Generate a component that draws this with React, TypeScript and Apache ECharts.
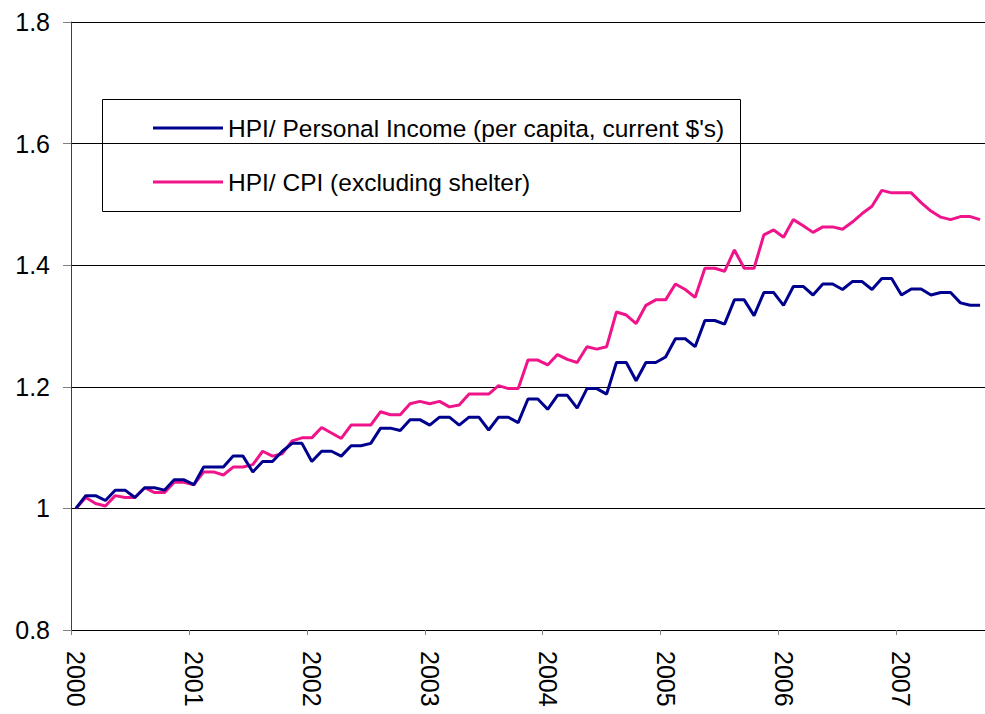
import React, { useEffect, useRef } from "react";
import * as echarts from "echarts";

const years = ["2000", "2001", "2002", "2003", "2004", "2005", "2006", "2007"];
const monthsShown = 93; // Jan 2000 .. Sep 2007

const seriesNames = [
  "HPI/ Personal Income (per capita, current $'s)",
  "HPI/ CPI (excluding shelter)",
];

const hpiIncome = [
  1.000, 1.021, 1.021, 1.013, 1.030, 1.030, 1.018, 1.034, 1.034, 1.030, 1.047, 1.047,
  1.039, 1.068, 1.068, 1.068, 1.086, 1.086, 1.060, 1.077, 1.077, 1.094, 1.107, 1.107,
  1.077, 1.094, 1.094, 1.086, 1.103, 1.103, 1.107, 1.132, 1.132, 1.128, 1.146, 1.146,
  1.137, 1.150, 1.150, 1.137, 1.150, 1.150, 1.129, 1.150, 1.150, 1.141, 1.180, 1.180,
  1.163, 1.186, 1.186, 1.165, 1.197, 1.197, 1.188, 1.240, 1.240, 1.210, 1.240, 1.240,
  1.249, 1.279, 1.279, 1.266, 1.309, 1.309, 1.303, 1.343, 1.343, 1.317, 1.355, 1.355,
  1.334, 1.365, 1.365, 1.351, 1.369, 1.369, 1.360, 1.373, 1.373, 1.360, 1.378, 1.378,
  1.351, 1.361, 1.361, 1.351, 1.355, 1.355, 1.338, 1.334, 1.334,
];

const hpiCpi = [
  1.000, 1.018, 1.008, 1.004, 1.021, 1.018, 1.018, 1.034, 1.026, 1.026, 1.043, 1.043,
  1.039, 1.060, 1.060, 1.055, 1.068, 1.068, 1.072, 1.094, 1.086, 1.090, 1.111, 1.116,
  1.116, 1.133, 1.124, 1.115, 1.137, 1.137, 1.137, 1.159, 1.154, 1.154, 1.172, 1.176,
  1.172, 1.176, 1.167, 1.170, 1.188, 1.188, 1.188, 1.202, 1.197, 1.197, 1.244, 1.244,
  1.236, 1.253, 1.245, 1.240, 1.266, 1.262, 1.266, 1.323, 1.318, 1.304, 1.334, 1.343,
  1.343, 1.369, 1.360, 1.347, 1.395, 1.395, 1.390, 1.425, 1.395, 1.395, 1.450, 1.458,
  1.446, 1.475, 1.465, 1.454, 1.463, 1.463, 1.459, 1.471, 1.485, 1.497, 1.523, 1.519,
  1.519, 1.519, 1.503, 1.489, 1.479, 1.475, 1.480, 1.480, 1.475,
];

const colors = ["#00008f", "#f0148a"];

const categories: string[] = [];
for (let i = 0; i < monthsShown; i++) {
  const y = Math.floor(i / 12);
  categories.push(i % 12 === 0 ? years[y] : years[y] + "-" + String((i % 12) + 1));
}

export default function App() {
  const ref = useRef<HTMLDivElement>(null);
  useEffect(() => {
    if (!ref.current) return;
    const chart = echarts.init(ref.current, null, { renderer: "svg" });
    const axisFont = "'Liberation Sans', Arial, sans-serif";
    chart.setOption({
      animation: false,
      backgroundColor: "#ffffff",
      grid: { left: 71, right: 0, top: 22, bottom: 84, containLabel: false },
      xAxis: {
        type: "category",
        data: categories,
        boundaryGap: true,
        axisLine: { show: true, lineStyle: { color: "#000000", width: 1 } },
        axisTick: { show: true, interval: 11, length: 5, lineStyle: { color: "#808080" } },
        axisLabel: {
          interval: 11,
          rotate: -90,
          margin: 21,
          fontSize: 25,
          fontFamily: axisFont,
          color: "#000000",
          formatter: (v: string) => v.slice(0, 4),
        },
        splitLine: { show: false },
      },
      yAxis: {
        type: "value",
        min: 0.8,
        max: 1.8,
        interval: 0.2,
        axisLine: { show: true, lineStyle: { color: "#404040", width: 1 } },
        axisTick: { show: true, length: 8, lineStyle: { color: "#808080" } },
        axisLabel: {
          margin: 21,
          fontSize: 25,
          fontFamily: axisFont,
          color: "#000000",
          formatter: (v: number) => String(Math.round(v * 10) / 10),
        },
        splitLine: { show: true, lineStyle: { color: "#000000", width: 1 } },
      },
      legend: {
        orient: "vertical",
        left: 153,
        top: 113,
        padding: 0,
        itemWidth: 70,
        itemHeight: 3,
        itemGap: 24,
        icon: "rect",
        selectedMode: false,
        textStyle: {
          fontSize: 24.5,
          lineHeight: 30,
          color: "#000000",
          fontFamily: "'Liberation Sans Narrow', 'Arial Narrow', 'Liberation Sans', Arial, sans-serif",
          padding: [0, 0, 0, 0],
        },
        data: seriesNames,
        formatter: (n: string) => n,
      },
      graphic: [
        {
          type: "rect",
          left: 102,
          top: 99,
          shape: { x: 0, y: 0, width: 638, height: 112 },
          style: { fill: "#ffffff", stroke: "#000000", lineWidth: 1 },
          z: 0,
          silent: true,
        },
      ],
      series: [
        {
          name: seriesNames[0],
          type: "line",
          data: hpiIncome,
          showSymbol: false,
          symbol: "none",
          color: colors[0],
          lineStyle: { width: 3, color: colors[0] },
          z: 3,
        },
        {
          name: seriesNames[1],
          type: "line",
          data: hpiCpi,
          showSymbol: false,
          symbol: "none",
          color: colors[1],
          lineStyle: { width: 3, color: colors[1] },
          z: 2,
        },
      ],
    });
    return () => chart.dispose();
  }, []);
  return (
    <div
      ref={ref}
      style={{ position: "fixed", left: 0, top: 0, width: 985, height: 714, background: "#fff" }}
    />
  );
}
